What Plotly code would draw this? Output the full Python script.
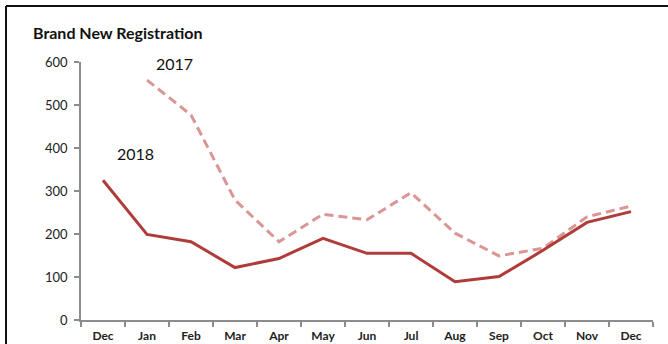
import plotly.graph_objects as go

months = ["Dec", "Jan", "Feb", "Mar", "Apr", "May", "Jun", "Jul", "Aug", "Sep", "Oct", "Nov", "Dec"]
reg_2018 = [325, 199, 182, 122, 143, 190, 155, 155, 89, 101, 162, 227, 252]
reg_2017 = [None, 558, 477, 279, 182, 246, 233, 296, 202, 149, 167, 240, 265]
y_ticks = [0, 100, 200, 300, 400, 500, 600]

W, H = 668, 344
L, R, T, B = 81, 15, 62, 24
pw, ph = W - L - R, H - T - B

def px2paper_x(px):
    return (px - L) / pw

def px2paper_y(py):
    return (H - B - py) / ph

xs = list(range(len(months)))

fig = go.Figure()
fig.add_trace(go.Scatter(
    x=xs, y=reg_2017, mode="lines", name="2017",
    line=dict(color="rgb(217,150,148)", width=3, dash="9px,5px"),
    connectgaps=False, hoverinfo="skip"))
fig.add_trace(go.Scatter(
    x=xs, y=reg_2018, mode="lines", name="2018",
    line=dict(color="rgb(176,60,58)", width=3),
    hoverinfo="skip"))

font_family = "Lato, 'Open Sans', sans-serif"

fig.update_layout(
    template="none",
    width=W, height=H,
    margin=dict(l=L, r=R, t=T, b=B, autoexpand=False),
    paper_bgcolor="white", plot_bgcolor="white",
    showlegend=False,
    font=dict(family=font_family, color="#222"),
    xaxis=dict(
        range=[-0.5, len(months) - 0.5],
        tickmode="array", tickvals=xs, ticktext=months,
        ticks="", showgrid=False, zeroline=False, automargin=False,
        showline=True, linecolor="#8c8c8c", linewidth=1.5,
        tickfont=dict(size=12, family=font_family, color="#222", weight="bold"),
        ticklabelstandoff=4,
        minor=dict(tick0=-0.5, dtick=1, ticks="outside", ticklen=5,
                   tickcolor="#8c8c8c", tickwidth=1.5, showgrid=False),
        fixedrange=True,
    ),
    yaxis=dict(
        range=[0, 600], tickmode="array", tickvals=y_ticks,
        ticks="outside", ticklen=5, tickcolor="#8c8c8c", tickwidth=1.5,
        showgrid=False, zeroline=False, automargin=False,
        showline=True, linecolor="#8c8c8c", linewidth=1.5,
        tickfont=dict(size=13, family=font_family, color="#222"),
        ticklabelstandoff=4,
        fixedrange=True,
    ),
)

# Chart title
fig.add_annotation(
    x=px2paper_x(31), y=px2paper_y(32), xref="paper", yref="paper",
    text="<b>Brand New Registration</b>", showarrow=False,
    xanchor="left", yanchor="middle",
    font=dict(size=16, family=font_family, color="#111"))

# Series labels
fig.add_annotation(
    x=px2paper_x(174), y=px2paper_y(63), xref="paper", yref="paper",
    text="2017", showarrow=False, xanchor="center", yanchor="middle",
    font=dict(size=16, family=font_family, color="#111"))
fig.add_annotation(
    x=px2paper_x(135), y=px2paper_y(153), xref="paper", yref="paper",
    text="2018", showarrow=False, xanchor="center", yanchor="middle",
    font=dict(size=16, family=font_family, color="#111"))

# Outer frame (top and left edges visible)
fig.add_shape(type="line", xref="paper", yref="paper",
              x0=px2paper_x(6), x1=px2paper_x(670), y0=px2paper_y(6), y1=px2paper_y(6),
              line=dict(color="#111", width=2))
fig.add_shape(type="line", xref="paper", yref="paper",
              x0=px2paper_x(6), x1=px2paper_x(6), y0=px2paper_y(6), y1=px2paper_y(346),
              line=dict(color="#111", width=2))

fig.write_html("out.html", config={"displayModeBar": False},
               post_script="document.body.style.margin='0';document.body.style.overflow='hidden';")
